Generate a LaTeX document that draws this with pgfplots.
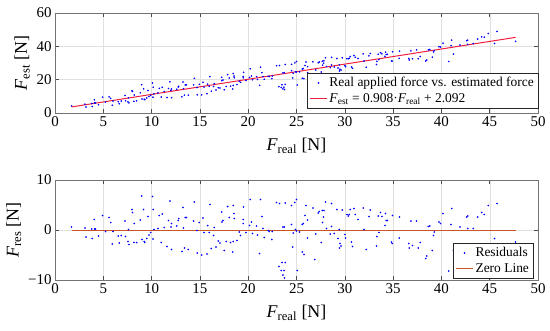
\documentclass[border=0pt]{standalone}
\usepackage{fontspec}
\setmainfont{Liberation Serif}
\usepackage{pgfplots}
\usepackage{pgfplotstable}
\pgfplotsset{compat=1.18}
\definecolor{fitred}{RGB}{240,30,60}
\definecolor{zerobrown}{RGB}{200,85,40}
\definecolor{dotblue}{RGB}{0,0,255}

\pgfplotstableread{
x y
1.72 4.3
3.1 5.3
3.2 3.6
3.86 3.9
3.8 5.7
4.1 6.0
4.2 6.1
4.07 7.9
4.5 5.0
4.93 9.5
5.24 6.6
5.6 9.7
5.76 8.8
5.93 4.7
6.0 7.2
6.55 6.8
6.65 5.5
6.86 7.2
7.24 10.5
7.3 7.4
7.55 6.7
7.65 6.1
7.6 9.1
7.97 13.4
8.03 12.9
8.2 10.8
8.17 7.0
8.45 7.3
8.83 12.1
8.97 17.0
9.0 8.4
9.17 14.5
9.24 8.2
9.3 8.0
9.5 9.0
9.62 13.5
9.72 9.9
9.9 10.6
10.1 18.0
10.17 15.4
10.14 9.5
10.24 11.5
10.65 12.1
10.8 14.8
11.0 9.6
11.1 15.4
11.3 12.9
11.6 9.3
11.9 18.7
11.76 14.7
12.07 14.4
12.07 9.2
12.0 13.6
12.6 14.3
12.76 15.6
12.8 16.0
13.25 18.6
13.49 16.8
13.6 16.9
13.14 9.7
13.4 10.7
13.8 10.7
13.3 14.6
14.42 20.8
14.35 16.9
14.7 15.3
14.73 10.9
14.94 17.2
15.18 10.9
15.32 18.4
15.42 15.6
15.73 11.6
15.8 17.3
15.97 16.1
16.04 21.8
16.18 13.1
16.42 15.9
16.49 17.6
16.66 13.8
16.9 15.2
17.07 15.0
17.25 21.4
17.28 19.4
17.39 19.8
17.52 13.9
17.73 15.9
17.87 23.0
18.04 21.0
18.18 16.1
18.39 14.4
18.45 23.7
18.52 22.2
18.56 21.2
18.45 16.5
18.83 17.1
19.07 19.0
19.21 18.4
19.49 21.9
19.52 24.4
19.49 21.1
19.76 19.5
20.14 21.3
20.21 26.5
20.35 22.2
20.45 20.0
20.87 21.8
20.97 20.1
21.18 16.6
21.28 27.5
21.42 24.2
21.52 21.9
21.66 20.3
22.07 22.0
22.18 21.9
22.45 20.6
22.49 22.2
22.94 28.4
23.25 28.5
23.59 24.1
23.73 24.2
23.18 15.8
23.5 16.9
23.83 17.2
23.42 15.3
23.7 15.5
23.59 14.5
23.76 14.1
23.83 29.1
24.49 29.2
24.49 25.4
24.66 23.9
24.6 21.0
24.83 30.1
25.0 30.9
25.07 16.8
24.9 24.8
25.32 24.7
25.0 24.6
25.6 26.4
25.7 26.7
25.6 20.9
25.77 20.6
25.98 30.6
25.87 28.5
26.15 27.8
26.15 24.2
26.7 30.7
26.9 20.6
27.0 25.8
27.25 30.2
27.36 30.6
27.56 24.6
27.7 28.7
27.67 31.1
27.84 31.3
27.8 29.9
28.0 33.1
28.1 27.9
28.5 27.2
28.63 33.4
28.63 28.8
28.9 27.6
29.18 32.7
29.29 27.0
29.43 28.9
29.5 26.2
29.6 25.8
29.46 25.2
29.74 33.1
30.01 28.4
30.08 27.8
30.22 32.6
30.36 32.5
30.46 32.9
30.56 33.9
30.7 27.6
30.8 26.8
30.94 34.5
31.08 33.4
31.36 32.7
31.9 35.5
32.0 31.2
32.22 27.5
32.5 34.3
32.63 35.7
33.29 29.1
33.32 31.0
33.53 32.0
33.46 35.3
33.7 36.2
33.84 35.5
34.22 36.5
34.15 34.0
34.29 35.1
34.4 35.2
34.84 31.3
34.94 36.7
34.9 31.1
35.67 37.1
35.63 32.8
36.63 32.7
36.67 31.8
36.84 37.3
37.01 32.6
37.43 37.9
37.6 32.6
37.82 33.9
38.37 31.2
38.48 31.8
38.65 37.9
38.79 38.1
39.06 33.5
39.17 36.6
39.27 37.4
39.75 39.8
39.9 39.6
40.17 41.9
40.75 30.9
41.0 40.4
41.06 43.7
41.24 35.4
41.92 40.8
42.62 43.4
42.72 43.7
42.72 41.2
43.3 41.7
43.75 44.4
44.17 45.7
44.44 45.5
44.86 47.7
45.5 41.7
45.75 48.9
47.68 43.0
}\topdata

\pgfplotstableread{
x r
1.72 0.6
3.1 0.4
3.2 -1.4
3.86 -1.7
3.8 0.2
4.1 0.2
4.2 0.2
4.07 2.1
4.5 -1.2
4.93 2.9
5.24 -0.3
5.6 2.5
5.76 1.5
5.93 -2.8
6.0 -0.3
6.55 -1.2
6.65 -2.6
6.86 -1.1
7.24 1.8
7.3 -1.3
7.55 -2.3
7.65 -2.9
7.6 0.1
7.97 4.1
8.03 3.5
8.2 1.3
8.17 -2.5
8.45 -2.5
8.83 2.0
8.97 6.8
9.0 -1.9
9.17 4.1
9.24 -2.3
9.3 -2.5
9.5 -1.7
9.62 2.7
9.72 -1.0
9.9 -0.5
10.1 6.7
10.17 4.1
10.14 -1.8
10.24 0.1
10.65 0.3
10.8 2.9
11.0 -2.5
11.1 3.2
11.3 0.5
11.6 -3.3
11.9 5.8
11.76 1.9
12.07 1.3
12.07 -3.9
12.0 0.6
12.6 0.8
12.76 1.9
12.8 2.3
13.25 4.5
13.49 2.5
13.6 2.5
13.14 -4.3
13.4 -3.6
13.8 -3.9
13.3 0.4
14.42 5.6
14.35 1.8
14.7 -0.1
14.73 -4.6
14.94 1.5
15.18 -5.0
15.32 2.4
15.42 -0.5
15.73 -4.8
15.8 0.9
15.97 -0.5
16.04 5.1
16.18 -3.7
16.42 -1.1
16.49 0.5
16.66 -3.4
16.9 -2.2
17.07 -2.6
17.25 3.6
17.28 1.6
17.39 1.9
17.52 -4.1
17.73 -2.3
17.87 4.7
18.04 2.5
18.18 -2.5
18.39 -4.4
18.45 4.9
18.52 3.3
18.56 2.3
18.45 -2.3
18.83 -2.1
19.07 -0.4
19.21 -1.1
19.49 2.1
19.52 4.6
19.49 1.3
19.76 -0.5
20.14 0.9
20.21 6.1
20.35 1.6
20.45 -0.7
20.87 0.8
20.97 -1.0
21.18 -4.7
21.28 6.1
21.42 2.7
21.52 0.3
21.66 -1.5
22.07 -0.1
22.18 -0.3
22.45 -1.9
22.49 -0.3
22.94 5.5
23.25 5.3
23.59 0.6
23.73 0.6
23.18 -7.3
23.5 -6.5
23.83 -6.5
23.42 -8.1
23.7 -8.1
23.59 -9.0
23.76 -9.6
23.83 5.4
24.49 4.9
24.49 1.1
24.66 -0.6
24.6 -3.4
24.83 5.5
25.0 6.1
25.07 -8.1
24.9 0.1
25.32 -0.4
25.0 -0.2
25.6 1.1
25.7 1.3
25.6 -4.4
25.77 -4.9
25.98 4.9
25.87 2.9
26.15 2.0
26.15 -1.6
26.7 4.4
26.9 -5.9
27.0 -0.8
27.25 3.4
27.36 3.7
27.56 -2.5
27.7 1.5
27.67 3.9
27.84 3.9
27.8 2.6
28.0 5.6
28.1 0.3
28.5 -0.8
28.63 5.3
28.63 0.7
28.9 -0.7
29.18 4.1
29.29 -1.7
29.43 0.1
29.5 -2.7
29.6 -3.2
29.46 -3.6
29.74 4.0
30.01 -0.9
30.08 -1.6
30.22 3.1
30.36 2.8
30.46 3.1
30.56 4.1
30.7 -2.4
30.8 -3.3
30.94 4.3
31.08 3.1
31.36 2.1
31.9 4.4
32.0 0.1
32.22 -3.9
32.5 2.7
32.63 4.0
33.29 -3.2
33.32 -1.3
33.53 -0.5
33.46 2.8
33.7 3.5
33.84 2.7
34.22 3.3
34.15 0.9
34.29 1.9
34.4 1.9
34.84 -2.4
34.94 2.9
34.9 -2.7
35.67 2.6
35.63 -1.6
36.63 -2.7
36.67 -3.6
36.84 1.8
37.01 -3.1
37.43 1.8
37.6 -3.6
37.82 -2.5
38.37 -5.7
38.48 -5.2
38.65 0.7
38.79 0.8
39.06 -4.1
39.17 -1.1
39.27 -0.4
39.75 1.6
39.9 1.3
40.17 3.3
40.75 -8.2
41.0 1.1
41.06 4.3
41.24 -4.1
41.92 0.6
42.62 2.6
42.72 2.8
42.72 0.3
43.3 0.3
43.75 2.6
44.17 3.5
44.44 3.1
44.86 4.9
45.5 -1.7
45.75 5.3
47.68 -2.4
}\resdata

\pgfplotsset{mystyle/.style={
  scale only axis, width=483bp, height=100bp,
  xmin=0, xmax=50, xtick={0,5,...,50},
  grid=major, grid style={black!12, line width=0.4pt},
  axis line style={black!55, line width=0.5pt},
  tick style={black!70, line width=0.5pt},
  tick align=inside, major tick length=4bp,
  ticklabel style={font=\fontsize{15}{15}\selectfont, text=black},
  /pgf/number format/assume math mode=true,
  label style={font=\fontsize{18}{18}\selectfont},
  legend style={font=\fontsize{13.5}{15}\selectfont, draw=black!85, line width=0.5pt,
    inner sep=2pt, row sep=1pt, fill=white},
  legend cell align=left,
  xlabel={\textit{F}\textsubscript{real} [N]},
  xlabel style={yshift=-5bp},
}}

\begin{document}
\begin{tikzpicture}
\path[use as bounding box] (-55bp,-218bp) rectangle (495bp,113bp);
\begin{axis}[mystyle, at={(0bp,0bp)}, anchor=south west,
  ymin=0, ymax=60, ytick={0,20,40,60},
  ylabel={\textit{F}\textsubscript{est} [N]},
  legend style={at={(1,0.05)}, anchor=south east}]
\addplot[only marks, mark=*, mark size=0.6pt, dotblue] table[x=x,y=y]{\topdata};
\addlegendentry{Real applied force vs. estimated force}
\addplot[fitred, line width=1pt] coordinates {(1.72,3.65) (47.68,45.38)};
\addlegendentry{\textit{F}\textsubscript{est} = 0.908·\textit{F}\textsubscript{real} + 2.092}
\end{axis}
\begin{axis}[mystyle, at={(0bp,-167bp)}, anchor=south west,
  ymin=-10, ymax=10, ytick={-10,0,10}, yticklabels={−10,0,10},
  ylabel={\textit{F}\textsubscript{res} [N]},
  legend style={at={(0.99,0.02)}, anchor=south east}]
\addplot[only marks, mark=*, mark size=0.6pt, dotblue] table[x=x,y=r]{\resdata};
\addlegendentry{Residuals}
\addplot[zerobrown, line width=1pt] coordinates {(1.72,0) (47.68,0)};
\addlegendentry{Zero Line}
\end{axis}
\end{tikzpicture}
\end{document}
